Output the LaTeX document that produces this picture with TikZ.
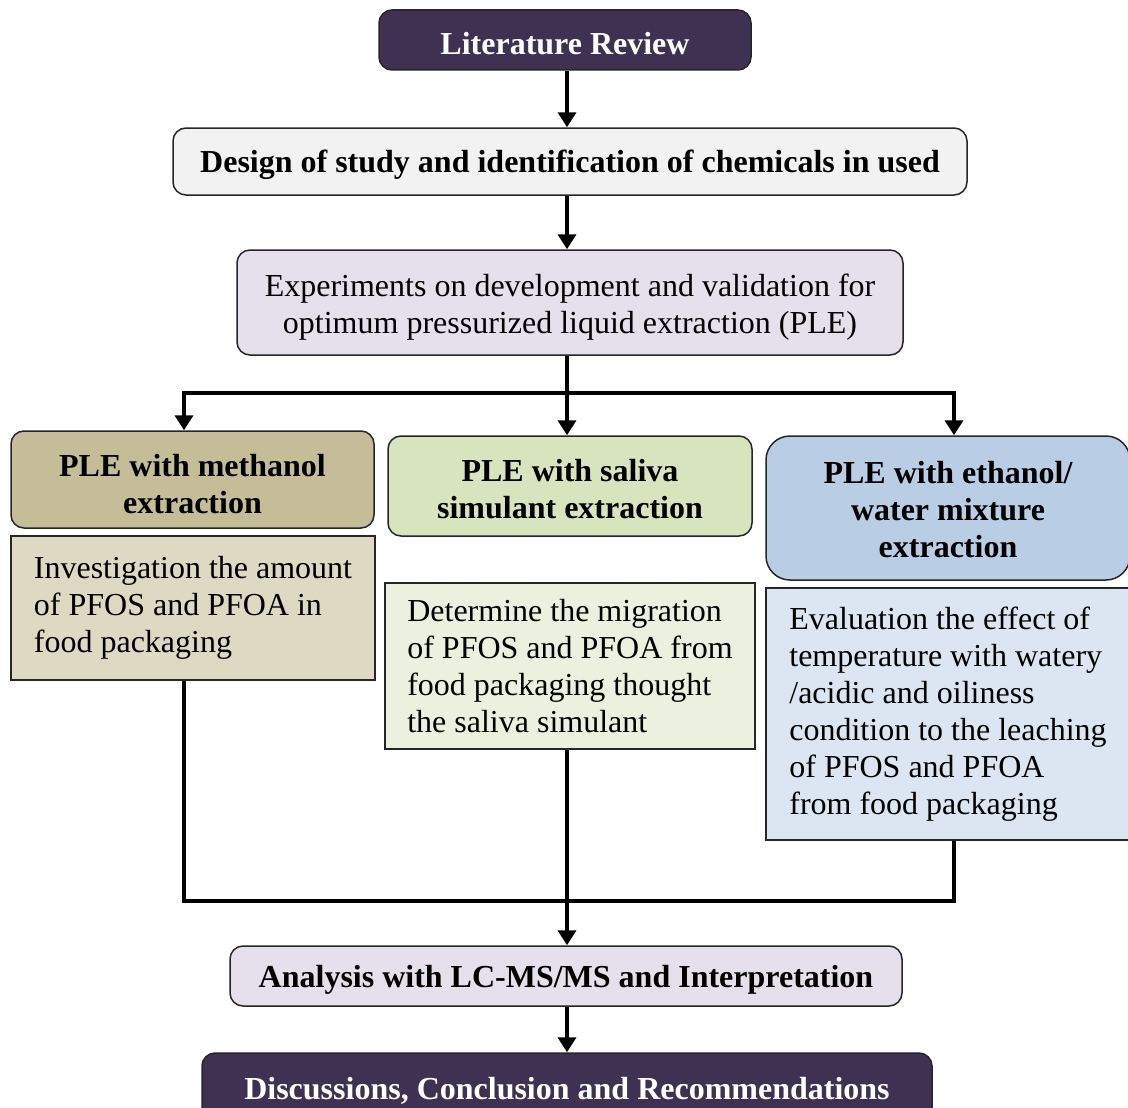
\documentclass[tikz,border=0pt]{standalone}
\usepackage{fontspec}
\setmainfont{Liberation Serif}
\usetikzlibrary{arrows.meta,calc}
\definecolor{darkpurple}{HTML}{3F3151}
\definecolor{designfill}{HTML}{F2F2F2}
\definecolor{lavender}{HTML}{E5E0EC}
\definecolor{tandark}{HTML}{C4BD97}
\definecolor{tanlight}{HTML}{DDD9C3}
\definecolor{olivemid}{HTML}{D7E4BD}
\definecolor{olivelight}{HTML}{EBF1DE}
\definecolor{bluemid}{HTML}{B9CDE5}
\definecolor{bluelight}{HTML}{DCE6F2}
\definecolor{edge}{HTML}{262626}
\newcommand\lowertext[2]{\raisebox{0pt}[\dimexpr\height+#1\relax][\depth]{\begin{tabular}{@{}c@{}}#2\end{tabular}}}
\begin{document}
\begin{tikzpicture}[x=1pt,y=-1pt,
  base/.style={draw=edge, line width=1.5pt, inner sep=0pt, align=center,
    font=\fontsize{32}{37}\selectfont},
  rbox/.style={base, rounded corners=13pt},
  strutfix/.style={execute at begin node={\rule{0pt}{30pt}}},
  sbox/.style={base, align=left},
  dims/.style 2 args={minimum width=#1pt, minimum height=#2pt},
  conn/.style={line width=4pt, draw=black},
  arrowc/.style={conn, -{Triangle[width=18pt,length=15pt]}}
]
\clip (0,0) rectangle (1128,1108);
\fill[white] (0,0) rectangle (1128,1108);

\node[rbox, strutfix, dims={372}{60}, fill=darkpurple, text=white, font=\fontsize{32}{37}\selectfont\bfseries] (lit) at (565,40) {Literature Review};
\node[rbox, strutfix, dims={794}{67}, fill=designfill, font=\fontsize{32}{37}\selectfont\bfseries] (design) at (570,161.5) {Design of study and identification of chemicals in used};
\node[rbox, dims={666}{105}, fill=lavender] (exp) at (570,302.5) {\lowertext{10pt}{Experiments on development and validation for\\optimum pressurized liquid extraction (PLE)}};

\node[rbox, dims={363}{97}, fill=tandark, font=\fontsize{32}{37}\selectfont\bfseries] (meth) at (192.5,479.5) {\lowertext{16pt}{PLE with methanol\\extraction}};
\node[sbox, dims={364}{144}, fill=tanlight] (inv) at (193,608) {Investigation the amount\\of PFOS and PFOA in\\food packaging};

\node[rbox, dims={364}{100}, fill=olivemid, font=\fontsize{32}{37}\selectfont\bfseries] (sal) at (570,486) {\lowertext{14pt}{PLE with saliva\\simulant extraction}};
\node[sbox, dims={370}{166}, fill=olivelight] (det) at (570,666) {Determine the migration\\of PFOS and PFOA from\\food packaging thought\\the saliva simulant};

\node[rbox, rounded corners=24pt, dims={364}{144}, fill=bluemid, font=\fontsize{32}{37}\selectfont\bfseries] (eth) at (948,508) {\lowertext{10pt}{PLE with ethanol/\\water mixture\\extraction}};
\node[sbox, dims={364}{252}, fill=bluelight] (eval) at (948,714) {Evaluation the effect of\\temperature with watery\\/acidic and oiliness\\condition to the leaching\\of PFOS and PFOA\\from food packaging};

\node[rbox, strutfix, dims={672}{60}, fill=lavender, font=\fontsize{32}{37}\selectfont\bfseries] (ana) at (566,976) {Analysis with LC-MS/MS and Interpretation};
\node[rbox, strutfix, dims={730}{68}, fill=darkpurple, text=white, font=\fontsize{32}{37}\selectfont\bfseries] (disc) at (567,1087) {Discussions, Conclusion and Recommendations};

% helper coordinates
\coordinate (colL) at (184,0);
\coordinate (colM) at (567,0);
\coordinate (colR) at (954,0);
\coordinate (split) at (567,393);
\coordinate (join) at (567,901);

% connectors
\draw[arrowc] (lit.south -| colM) -- (design.north -| colM);
\draw[arrowc] (design.south -| colM) -- (exp.north -| colM);
\draw[conn] (exp.south -| colM) -- (split);
\draw[arrowc] (split) -- (sal.north -| colM);
\draw[arrowc] (split) -| (colL |- meth.north);
\draw[arrowc] (split) -| (colR |- eth.north);

\draw[conn] (inv.south -| colL) |- (join);
\draw[conn] (eval.south -| colR) |- (join);
\draw[arrowc] (det.south -| colM) -- (ana.north -| colM);
\draw[arrowc] (ana.south -| colM) -- (disc.north -| colM);
\end{tikzpicture}
\end{document}
